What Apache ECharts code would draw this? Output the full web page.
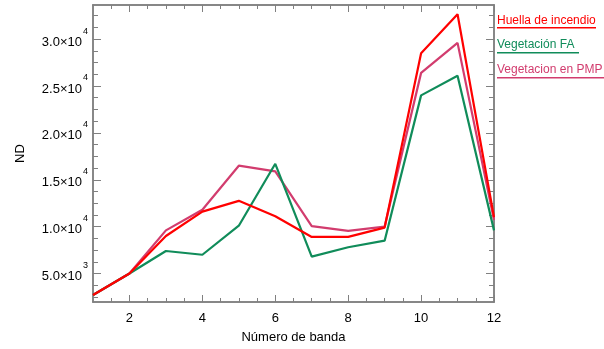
<!DOCTYPE html>
<html>
<head>
<meta charset="utf-8">
<script src="https://cdn.jsdelivr.net/npm/echarts@6/dist/echarts.min.js"></script>
<style>
html,body{margin:0;padding:0;background:#fff;}
#chart{width:604px;height:349px;}
</style>
</head>
<body>
<div id="chart"></div>
<script>
// ---- data ----
var bands = [1,2,3,4,5,6,7,8,9,10,11,12];
var seriesNames = ['Huella de incendio', 'Vegetación FA ', 'Vegetacion en PMP'];
var huella   = [2700, 5000, 9000, 11600, 12750, 11100, 8900, 8900, 9900, 28500, 32650, 11000];
var vegFA    = [2700, 5000, 7400, 7000, 10100, 16700, 6800, 7800, 8500, 24000, 26100, 9600];
var vegPMP   = [2700, 5000, 9600, 11800, 16500, 15900, 10050, 9550, 10000, 26400, 29600, 10700];
var xTickLabels = [2, 4, 6, 8, 10, 12];
var xMinorTicks = [1.5,2,2.5,3,3.5,4,4.5,5,5.5,6,6.5,7,7.5,8,8.5,9,9.5,10,10.5,11,11.5];
var yTickValues = [5000, 10000, 15000, 20000, 25000, 30000];
var yTickMantissa = ['5.0', '1.0', '1.5', '2.0', '2.5', '3.0'];
var yTickExponent = ['3', '4', '4', '4', '4', '4'];
var yMinorTicks = [2500,3750,5000,6250,7500,8750,10000,11250,12500,13750,15000,16250,17500,18750,20000,21250,22500,23750,25000,26250,27500,28750,30000,31250,32500];

var colors = ['#ff0000', '#108c5a', '#d23c6e'];
var FONT = "'Liberation Sans', Arial, sans-serif";
var AX = '#808080';
var xMin = 1, xMax = 12, yMin = 1960, yMax = 33640;

function pairs(vals){ return bands.map(function(b,i){ return [b, vals[i]]; }); }

function xAxisDef(pos, ticks, len, showLabel, name){
  return {
    type: 'value', position: pos, min: xMin, max: xMax,
    axisLine: {show: true, onZero: false, lineStyle: {color: AX, width: 1.5}},
    axisTick: {show: true, inside: true, length: len, customValues: ticks, lineStyle: {color: AX, width: 1}},
    axisLabel: {show: showLabel, customValues: xTickLabels, color: '#000', fontSize: 13, fontFamily: FONT, margin: 10},
    splitLine: {show: false},
    name: name || '', nameLocation: 'middle', nameGap: 29,
    nameTextStyle: {color: '#000', fontSize: 13, fontFamily: FONT}
  };
}
function yAxisDef(pos, ticks, len, showLabel, name){
  return {
    type: 'value', position: pos, min: yMin, max: yMax,
    axisLine: {show: true, onZero: false, lineStyle: {color: AX, width: 1.5}},
    axisTick: {show: true, inside: true, length: len, customValues: ticks, lineStyle: {color: AX, width: 1}},
    axisLabel: {
      show: showLabel, customValues: yTickValues, margin: 5,
      formatter: function(v){
        var i = yTickValues.indexOf(v);
        return '{m|' + yTickMantissa[i] + '×10}{s|' + yTickExponent[i] + '}';
      },
      rich: {
        m: {fontSize: 13, fontFamily: FONT, color: '#000', lineHeight: 16, verticalAlign: 'middle', padding: [6,0,0,0]},
        s: {fontSize: 9, fontFamily: FONT, color: '#000', lineHeight: 10, verticalAlign: 'middle', padding: [0,0,16,1]}
      }
    },
    splitLine: {show: false},
    name: name || '', nameLocation: 'middle', nameGap: 66,
    nameTextStyle: {color: '#000', fontSize: 13, fontFamily: FONT}
  };
}

var chart = echarts.init(document.getElementById('chart'), null, {renderer: 'canvas'});
var legendY = [21.5, 46, 71];
var underlineY = [27, 52, 77];
var underlineW = [99, 82, 107];
var graphics = [];
seriesNames.forEach(function(n, i){
  graphics.push({type: 'text', left: 497, top: legendY[i] - 7, z: 10, style: {text: n, fill: colors[i], font: '12px ' + FONT}});
  graphics.push({type: 'rect', z: 10, shape: {x: 497, y: underlineY[i], width: underlineW[i], height: 1.5}, style: {fill: colors[i]}});
});

chart.setOption({
  animation: false,
  backgroundColor: '#fff',
  grid: {left: 93, right: 110, top: 5, bottom: 46},
  xAxis: [
    xAxisDef('bottom', xTickLabels, 7, true, 'Número de banda'),
    xAxisDef('bottom', xMinorTicks, 4, false),
    xAxisDef('top', xTickLabels, 7, false),
    xAxisDef('top', xMinorTicks, 4, false)
  ],
  yAxis: [
    yAxisDef('left', yTickValues, 8, true, 'ND'),
    yAxisDef('left', yMinorTicks, 5, false),
    yAxisDef('right', yTickValues, 8, false),
    yAxisDef('right', yMinorTicks, 5, false)
  ],
  series: [huella, vegFA, vegPMP].map(function(vals, i){
    return {
      name: seriesNames[i], type: 'line', data: pairs(vals),
      xAxisIndex: 0, yAxisIndex: 0, showSymbol: false, symbol: 'none',
      lineStyle: {color: colors[i], width: 2.2}, z: 3 - i
    };
  }),
  graphic: graphics
});
</script>
</body>
</html>
